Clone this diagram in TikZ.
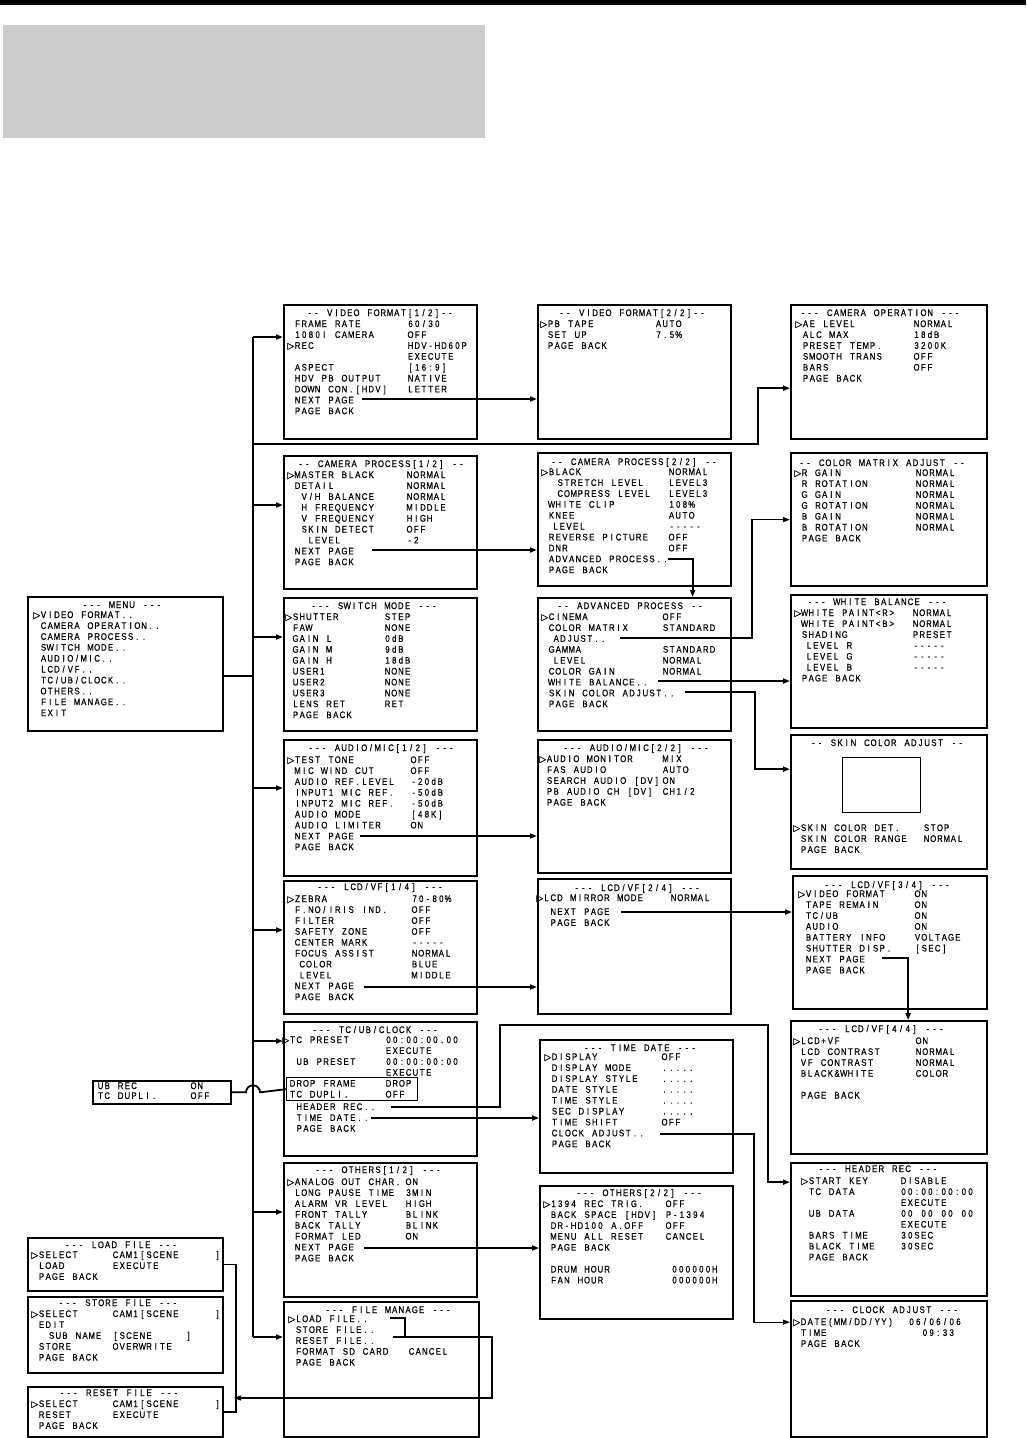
\documentclass[tikz,border=0pt]{standalone}
\usepackage{fontspec}
\usetikzlibrary{arrows.meta}
\newfontfamily\osdfont[FakeStretch=0.82, FakeBold=0.6]{Liberation Sans}
\newfontfamily\symf[FakeBold=0.6]{DejaVu Sans}
\newcommand\osdsz{\osdfont\fontsize{9.5}{10.9}\selectfont}
\newlength\osdcell \setlength\osdcell{6.7pt}
\newlength\labw
% one character per screen cell
\ExplSyntaxOn
\tl_new:N \l_osd_tl
\NewDocumentCommand \osd { m }
  {
    \tl_set:Nn \l_osd_tl { #1 }
    \tl_replace_all:Nnn \l_osd_tl { ~ } { \c_empty_tl }
    \tl_map_inline:Nn \l_osd_tl { \makebox [ \osdcell ] [ c ] { ##1 } }
  }
\ExplSyntaxOff
% menu row: label, value
\NewDocumentCommand\rw{O{0}mm}{\makebox[\labw][l]{\hspace*{#1\osdcell}\osd{#2}}\osd{#3}}
\newcommand\sel{\llap{\symf\fontsize{9}{9}\selectfont ▷}}
\begin{document}
\begin{tikzpicture}[x=1pt, y=-1pt,
  scr/.style={draw, line width=2.3pt, anchor=north west, inner sep=0pt},
  ttl/.style={anchor=base, inner sep=0pt, font=\osdsz},
  rows/.style={anchor=base west, inner sep=0pt, font=\osdsz,
    execute at begin node={\setlength\labw{#1}}},
  lnk/.style={line width=1.8pt},
  arr/.style={lnk, -{Triangle[length=7pt, width=5pt]}},
  thinarr/.style={line width=1.1pt, -{Triangle[length=7pt, width=5pt]}}]
  \useasboundingbox (0,0) rectangle (1026,1438);

  % page head
  \fill (0,0) rectangle (1026,5);
  \fill[black!20] (3,25) rectangle (485,138);

  % Menu
  \node[scr, minimum width=195pt, minimum height=134pt] (menu) at (27,596) {};
  \node[ttl] at (122,608) {\osd{--- MENU ---}};
  \node[rows=0pt] at (40,618) {\begin{tabular}[t]{@{}l@{}}
    \sel\osd{VIDEO FORMAT..}\\ \osd{CAMERA OPERATION..}\\ \osd{CAMERA PROCESS..}\\
    \osd{SWITCH MODE..}\\ \osd{AUDIO/MIC..}\\ \osd{LCD/VF..}\\ \osd{TC/UB/CLOCK..}\\
    \osd{OTHERS..}\\ \osd{FILE MANAGE..}\\ \osd{EXIT}
  \end{tabular}};

  % Video format 1/2
  \node[scr, minimum width=193pt, minimum height=134pt] (vf1) at (283,304) {};
  \node[ttl] at (380,316) {\osd{-- VIDEO FORMAT[1/2]--}};
  \node[rows=113pt] at (294,327) {\begin{tabular}[t]{@{}l@{}}
    \rw{FRAME RATE}{60/30}\\ \rw{1080I CAMERA}{OFF}\\ \sel\rw{REC}{HDV-HD60P}\\
    \rw{}{EXECUTE}\\ \rw{ASPECT}{[16:9]}\\ \rw{HDV PB OUTPUT}{NATIVE}\\
    \rw{DOWN CON.[HDV]}{LETTER}\\ \rw{NEXT PAGE}{}\\ \rw{PAGE BACK}{}
  \end{tabular}};

  % Video format 2/2
  \node[scr, minimum width=193pt, minimum height=134pt] (vf2) at (537,304) {};
  \node[ttl] at (632,316) {\osd{-- VIDEO FORMAT[2/2]--}};
  \node[rows=108pt] at (547,327) {\begin{tabular}[t]{@{}l@{}}
    \sel\rw{PB TAPE}{AUTO}\\ \rw{SET UP}{7.5\%}\\ \rw{PAGE BACK}{}
  \end{tabular}};

  % Camera operation
  \node[scr, minimum width=196pt, minimum height=134pt] (co) at (790,304) {};
  \node[ttl] at (880,316) {\osd{--- CAMERA OPERATION ---}};
  \node[rows=111pt] at (802,327) {\begin{tabular}[t]{@{}l@{}}
    \sel\rw{AE LEVEL}{NORMAL}\\ \rw{ALC MAX}{18dB}\\ \rw{PRESET TEMP.}{3200K}\\
    \rw{SMOOTH TRANS}{OFF}\\ \rw{BARS}{OFF}\\ \rw{PAGE BACK}{}
  \end{tabular}};

  % Camera process 1/2
  \node[scr, minimum width=193pt, minimum height=133pt] (cp1) at (283,455) {};
  \node[ttl] at (381,467) {\osd{-- CAMERA PROCESS[1/2] --}};
  \node[rows=112pt] at (294,478) {\begin{tabular}[t]{@{}l@{}}
    \sel\rw{MASTER BLACK}{NORMAL}\\ \rw{DETAIL}{NORMAL}\\ \rw[1]{V/H BALANCE}{NORMAL}\\
    \rw[1]{H FREQUENCY}{MIDDLE}\\ \rw[1]{V FREQUENCY}{HIGH}\\ \rw[1]{SKIN DETECT}{OFF}\\
    \rw[2]{LEVEL}{-2}\\ \rw{NEXT PAGE}{}\\ \rw{PAGE BACK}{}
  \end{tabular}};

  % Camera process 2/2
  \node[scr, minimum width=193pt, minimum height=133pt] (cp2) at (537,452) {};
  \node[ttl] at (634,465) {\osd{-- CAMERA PROCESS[2/2] --}};
  \node[rows=120pt] at (548,475) {\begin{tabular}[t]{@{}l@{}}
    \sel\rw{BLACK}{NORMAL}\\ \rw[1.3]{STRETCH LEVEL}{LEVEL3}\\ \rw[1.3]{COMPRESS LEVEL}{LEVEL3}\\
    \rw{WHITE CLIP}{108\%}\\ \rw{KNEE}{AUTO}\\ \rw[0.6]{LEVEL}{-----}\\
    \rw{REVERSE PICTURE}{OFF}\\ \rw{DNR}{OFF}\\ \rw{ADVANCED PROCESS..}{}\\ \rw{PAGE BACK}{}
  \end{tabular}};

  % Color matrix adjust
  \node[scr, minimum width=196pt, minimum height=133pt] (cm) at (790,452) {};
  \node[ttl] at (882,466) {\osd{-- COLOR MATRIX ADJUST --}};
  \node[rows=114pt] at (801,476) {\begin{tabular}[t]{@{}l@{}}
    \sel\rw{R GAIN}{NORMAL}\\ \rw{R ROTATION}{NORMAL}\\ \rw{G GAIN}{NORMAL}\\
    \rw{G ROTATION}{NORMAL}\\ \rw{B GAIN}{NORMAL}\\ \rw{B ROTATION}{NORMAL}\\ \rw{PAGE BACK}{}
  \end{tabular}};

  % Switch mode
  \node[scr, minimum width=193pt, minimum height=133pt] (sw) at (283,597) {};
  \node[ttl] at (374,609) {\osd{--- SWITCH MODE ---}};
  \node[rows=92pt] at (292,620) {\begin{tabular}[t]{@{}l@{}}
    \sel\rw{SHUTTER}{STEP}\\ \rw{FAW}{NONE}\\ \rw{GAIN L}{0dB}\\ \rw{GAIN M}{9dB}\\
    \rw{GAIN H}{18dB}\\ \rw{USER1}{NONE}\\ \rw{USER2}{NONE}\\ \rw{USER3}{NONE}\\
    \rw{LENS RET}{RET}\\ \rw{PAGE BACK}{}
  \end{tabular}};

  % Advanced process
  \node[scr, minimum width=193pt, minimum height=133pt] (ap) at (537,597) {};
  \node[ttl] at (630,609) {\osd{-- ADVANCED PROCESS --}};
  \node[rows=114pt] at (548,620) {\begin{tabular}[t]{@{}l@{}}
    \sel\rw{CINEMA}{OFF}\\ \rw{COLOR MATRIX}{STANDARD}\\ \rw[0.7]{ADJUST..}{}\\
    \rw{GAMMA}{STANDARD}\\ \rw[0.7]{LEVEL}{NORMAL}\\ \rw{COLOR GAIN}{NORMAL}\\
    \rw{WHITE BALANCE..}{}\\ \rw{SKIN COLOR ADJUST..}{}\\ \rw{PAGE BACK}{}
  \end{tabular}};

  % White balance
  \node[scr, minimum width=196pt, minimum height=133pt] (wb) at (790,594) {};
  \node[ttl] at (877,605) {\osd{--- WHITE BALANCE ---}};
  \node[rows=111pt] at (801,616) {\begin{tabular}[t]{@{}l@{}}
    \sel\rw{WHITE PAINT<R>}{NORMAL}\\ \rw{WHITE PAINT<B>}{NORMAL}\\ \rw{SHADING}{PRESET}\\
    \rw[0.7]{LEVEL R}{-----}\\ \rw[0.7]{LEVEL G}{-----}\\ \rw[0.7]{LEVEL B}{-----}\\ \rw{PAGE BACK}{}
  \end{tabular}};

  % Audio/mic 1/2
  \node[scr, minimum width=193pt, minimum height=136pt] (au1) at (283,739) {};
  \node[ttl] at (381,751) {\osd{--- AUDIO/MIC[1/2] ---}};
  \node[rows=116pt] at (294,763) {\begin{tabular}[t]{@{}l@{}}
    \sel\rw{TEST TONE}{OFF}\\ \rw{MIC WIND CUT}{OFF}\\ \rw{AUDIO REF.LEVEL}{-20dB}\\
    \rw{INPUT1 MIC REF.}{-50dB}\\ \rw{INPUT2 MIC REF.}{-50dB}\\ \rw{AUDIO MODE}{[48K]}\\
    \rw{AUDIO LIMITER}{ON}\\ \rw{NEXT PAGE}{}\\ \rw{PAGE BACK}{}
  \end{tabular}};

  % Audio/mic 2/2
  \node[scr, minimum width=193pt, minimum height=133pt] (au2) at (537,739) {};
  \node[ttl] at (636,751) {\osd{--- AUDIO/MIC[2/2] ---}};
  \node[rows=116pt] at (546,762) {\begin{tabular}[t]{@{}l@{}}
    \sel\rw{AUDIO MONITOR}{MIX}\\ \rw{FAS AUDIO}{AUTO}\\ \rw{SEARCH AUDIO [DV]}{ON}\\
    \rw{PB AUDIO CH [DV]}{CH1/2}\\ \rw{PAGE BACK}{}
  \end{tabular}};

  % Skin color adjust
  \node[scr, minimum width=196pt, minimum height=134pt] (sk) at (790,734) {};
  \node[ttl] at (887,746) {\osd{-- SKIN COLOR ADJUST --}};
  \node[draw, line width=1pt, anchor=north west, inner sep=0pt,
    minimum width=78pt, minimum height=55pt] (skwin) at (842,757) {};
  \node[rows=123pt] at (800,831) {\begin{tabular}[t]{@{}l@{}}
    \sel\rw{SKIN COLOR DET.}{STOP}\\ \rw{SKIN COLOR RANGE}{NORMAL}\\ \rw{PAGE BACK}{}
  \end{tabular}};

  % LCD/VF 1/4
  \node[scr, minimum width=193pt, minimum height=133pt] (lcd1) at (283,880) {};
  \node[ttl] at (380,890) {\osd{--- LCD/VF[1/4] ---}};
  \node[rows=117pt] at (294,902) {\begin{tabular}[t]{@{}l@{}}
    \sel\rw{ZEBRA}{70-80\%}\\ \rw{F.NO/IRIS IND.}{OFF}\\ \rw{FILTER}{OFF}\\
    \rw{SAFETY ZONE}{OFF}\\ \rw{CENTER MARK}{-----}\\ \rw{FOCUS ASSIST}{NORMAL}\\
    \rw[0.7]{COLOR}{BLUE}\\ \rw[0.7]{LEVEL}{MIDDLE}\\ \rw{NEXT PAGE}{}\\ \rw{PAGE BACK}{}
  \end{tabular}};

  % LCD/VF 2/4
  \node[scr, minimum width=193pt, minimum height=135pt] (lcd2) at (537,878) {};
  \node[ttl] at (637,891) {\osd{--- LCD/VF[2/4] ---}};
  \node[rows=127pt] at (543,901) {\begin{tabular}[t]{@{}l@{}}
    \sel\rw{LCD MIRROR MODE}{NORMAL}\\[3pt] \rw[1]{NEXT PAGE}{}\\ \rw[1]{PAGE BACK}{}
  \end{tabular}};

  % LCD/VF 3/4
  \node[scr, minimum width=194pt, minimum height=133pt] (lcd3) at (792,875) {};
  \node[ttl] at (887,888) {\osd{--- LCD/VF[3/4] ---}};
  \node[rows=109pt] at (805,897) {\begin{tabular}[t]{@{}l@{}}
    \sel\rw{VIDEO FORMAT}{ON}\\ \rw{TAPE REMAIN}{ON}\\ \rw{TC/UB}{ON}\\ \rw{AUDIO}{ON}\\
    \rw{BATTERY INFO}{VOLTAGE}\\ \rw{SHUTTER DISP.}{[SEC]}\\ \rw{NEXT PAGE}{}\\ \rw{PAGE BACK}{}
  \end{tabular}};

  % LCD/VF 4/4
  \node[scr, minimum width=196pt, minimum height=133pt] (lcd4) at (790,1020) {};
  \node[ttl] at (881,1032) {\osd{--- LCD/VF[4/4] ---}};
  \node[rows=115pt] at (800,1044) {\begin{tabular}[t]{@{}l@{}}
    \sel\rw{LCD+VF}{ON}\\ \rw{LCD CONTRAST}{NORMAL}\\ \rw{VF CONTRAST}{NORMAL}\\
    \rw{BLACK\&WHITE}{COLOR}\\ \\ \rw{PAGE BACK}{}
  \end{tabular}};

  % TC/UB/clock
  \node[scr, minimum width=193pt, minimum height=134pt] (tc) at (283,1021) {};
  \node[ttl] at (375,1033) {\osd{--- TC/UB/CLOCK ---}};
  \node[draw, line width=1.4pt, anchor=north west, inner sep=0pt,
    minimum width=131pt, minimum height=23pt] (tchl) at (286,1077) {};
  \node[rows=96pt] at (289,1043) {\begin{tabular}[t]{@{}l@{}}
    \sel\rw{TC PRESET}{00:00:00.00}\\ \rw{}{EXECUTE}\\ \rw[1]{UB PRESET}{00:00:00:00}\\
    \rw{}{EXECUTE}\\ \rw{DROP FRAME}{DROP}\\ \rw{TC DUPLI.}{OFF}\\[1.5pt]
    \rw[1]{HEADER REC..}{}\\ \rw[1]{TIME DATE..}{}\\ \rw[1]{PAGE BACK}{}
  \end{tabular}};

  % UB rec / TC dupli.
  \node[scr, line width=1.6pt, minimum width=138pt, minimum height=23pt] (ubrec) at (92,1080) {};
  \node[rows=93pt] at (97,1089) {\begin{tabular}[t]{@{}l@{}}
    \rw{UB REC}{ON}\\[-1pt] \rw{TC DUPLI.}{OFF}
  \end{tabular}};

  % Time date
  \node[scr, minimum width=193pt, minimum height=133pt] (td) at (539,1039) {};
  \node[ttl] at (640,1051) {\osd{--- TIME DATE ---}};
  \node[rows=110pt] at (551,1060) {\begin{tabular}[t]{@{}l@{}}
    \sel\rw{DISPLAY}{OFF}\\ \rw{DISPLAY MODE}{.....}\\ \rw{DISPLAY STYLE}{.....}\\
    \rw{DATE STYLE}{.....}\\ \rw{TIME STYLE}{.....}\\ \rw{SEC DISPLAY}{.....}\\
    \rw{TIME SHIFT}{OFF}\\ \rw{CLOCK ADJUST..}{}\\ \rw{PAGE BACK}{}
  \end{tabular}};

  % Others 1/2
  \node[scr, minimum width=193pt, minimum height=134pt] (ot1) at (283,1162) {};
  \node[ttl] at (378,1173) {\osd{--- OTHERS[1/2] ---}};
  \node[rows=111pt] at (294,1185) {\begin{tabular}[t]{@{}l@{}}
    \sel\rw{ANALOG OUT CHAR.}{ON}\\ \rw{LONG PAUSE TIME}{3MIN}\\ \rw{ALARM VR LEVEL}{HIGH}\\
    \rw{FRONT TALLY}{BLINK}\\ \rw{BACK TALLY}{BLINK}\\ \rw{FORMAT LED}{ON}\\
    \rw{NEXT PAGE}{}\\ \rw{PAGE BACK}{}
  \end{tabular}};

  % Others 2/2
  \node[scr, minimum width=193pt, minimum height=133pt] (ot2) at (539,1185) {};
  \node[ttl] at (639,1196) {\osd{--- OTHERS[2/2] ---}};
  \node[rows=115pt] at (550,1207) {\begin{tabular}[t]{@{}l@{}}
    \sel\rw{1394 REC TRIG.}{OFF}\\ \rw{BACK SPACE [HDV]}{P-1394}\\ \rw{DR-HD100 A.OFF}{OFF}\\
    \rw{MENU ALL RESET}{CANCEL}\\ \rw{PAGE BACK}{}\\[11pt]
    \rw{DRUM HOUR}{}\hspace*{6pt}\osd{000000H}\\ \rw{FAN HOUR}{}\hspace*{6pt}\osd{000000H}
  \end{tabular}};

  % Header rec
  \node[scr, minimum width=196pt, minimum height=133pt] (hr) at (790,1162) {};
  \node[ttl] at (878,1172) {\osd{--- HEADER REC ---}};
  \node[rows=92pt] at (808,1184) {\begin{tabular}[t]{@{}l@{}}
    \sel\rw{START KEY}{DISABLE}\\ \rw{TC DATA}{00:00:00:00}\\ \rw{}{EXECUTE}\\
    \rw{UB DATA}{00 00 00 00}\\ \rw{}{EXECUTE}\\ \rw{BARS TIME}{30SEC}\\
    \rw{BLACK TIME}{30SEC}\\ \rw{PAGE BACK}{}
  \end{tabular}};

  % File manage
  \node[scr, minimum width=195pt, minimum height=135pt] (fm) at (283,1301) {};
  \node[ttl] at (388,1313) {\osd{--- FILE MANAGE ---}};
  \node[rows=113pt] at (295,1322) {\begin{tabular}[t]{@{}l@{}}
    \sel\rw{LOAD FILE..}{}\\ \rw{STORE FILE..}{}\\ \rw{RESET FILE..}{}\\
    \rw{FORMAT SD CARD}{CANCEL}\\ \rw{PAGE BACK}{}
  \end{tabular}};

  % Clock adjust
  \node[scr, minimum width=196pt, minimum height=136pt] (ca) at (790,1300) {};
  \node[ttl] at (892,1313) {\osd{--- CLOCK ADJUST ---}};
  \node[rows=108pt] at (800,1325) {\begin{tabular}[t]{@{}l@{}}
    \sel\rw{DATE(MM/DD/YY)}{06/06/06}\\ \rw{TIME}{}\hspace*{13.4pt}\osd{09:33}\\ \rw{PAGE BACK}{}
  \end{tabular}};

  % Load / store / reset file
  \node[scr, line width=2pt, minimum width=195pt, minimum height=53pt] (load) at (27,1237) {};
  \node[ttl] at (121,1248) {\osd{--- LOAD FILE ---}};
  \node[rows=74pt] at (38,1258) {\begin{tabular}[t]{@{}l@{}}
    \sel\rw{SELECT}{}\makebox[102pt][l]{\osd{CAM1[SCENE}}\osd{]}\\ \rw{LOAD}{EXECUTE}\\ \rw{PAGE BACK}{}
  \end{tabular}};
  \node[scr, line width=2pt, minimum width=195pt, minimum height=76pt] (store) at (27,1296) {};
  \node[ttl] at (118,1306) {\osd{--- STORE FILE ---}};
  \node[rows=74pt] at (38,1317) {\begin{tabular}[t]{@{}l@{}}
    \sel\rw{SELECT}{}\makebox[102pt][l]{\osd{CAM1[SCENE}}\osd{]}\\ \rw{EDIT}{}\\
    \rw[1.5]{SUB NAME}{}\makebox[73pt][l]{\osd{[SCENE}}\osd{]}\\ \rw{STORE}{OVERWRITE}\\ \rw{PAGE BACK}{}
  \end{tabular}};
  \node[scr, line width=2pt, minimum width=195pt, minimum height=50pt] (reset) at (27,1386) {};
  \node[ttl] at (119,1396) {\osd{--- RESET FILE ---}};
  \node[rows=74pt] at (38,1407) {\begin{tabular}[t]{@{}l@{}}
    \sel\rw{SELECT}{}\makebox[102pt][l]{\osd{CAM1[SCENE}}\osd{]}\\ \rw{RESET}{EXECUTE}\\ \rw{PAGE BACK}{}
  \end{tabular}};

  % trunk from the menu
  \coordinate (ttop) at (253,337);
  \coordinate (tbot) at (253,1337);
  \draw[lnk] (ttop) -- (tbot);
  \draw[lnk] ([yshift=-12pt]menu.east) -- ([yshift=-12pt]menu.east -| ttop);
  \foreach \b/\d in {vf1/33, cp1/50, sw/40, au1/49, lcd1/50, tc/20, ot1/50, fm/36}
    \draw[arr] ([yshift=-\d pt]\b.north west -| ttop) -- ([yshift=-\d pt]\b.north west);
  \coordinate (cojoin) at (253,444);
  \draw[arr] (cojoin) -- ++(505,0) |- ([yshift=-16pt]co.west);

  % next page and sub menus
  \coordinate (vf1np) at (362,399);
  \draw[arr] (vf1np) -- (vf1np -| vf2.west);
  \coordinate (cp1np) at (372,550);
  \draw[arr] (cp1np) -- (cp1np -| cp2.west);
  \coordinate (cp2adv) at (668,559);
  \draw[arr] (cp2adv) -| ([xshift=58pt]ap.north);
  \coordinate (apadj) at (620,638);
  \draw[thinarr] (apadj) -- ++(132,0) |- (cm.west);
  \coordinate (apwb) at (658,681);
  \draw[arr] (apwb) -- (apwb -| wb.west);
  \coordinate (apskin) at (685,692);
  \draw[arr] (apskin) -- ++(70,0) |- ([yshift=33pt]sk.west);
  \coordinate (au1np) at (360,836);
  \draw[arr] (au1np) -- (au1np -| au2.west);
  \coordinate (lcd1np) at (364,987);
  \draw[arr] (lcd1np) -- (lcd1np -| lcd2.west);
  \coordinate (lcd2np) at (621,912);
  \draw[arr] (lcd2np) -- (lcd2np -| lcd3.west);
  \coordinate (lcd3np) at (882,958);
  \draw[arr] (lcd3np) -| ([xshift=19pt]lcd4.north);
  \coordinate (tchead) at (391,1107);
  \draw[arr] (tchead) -- ++(109,0) -- ++(0,-82) -- ++(268,0) |- ([yshift=47.5pt]hr.west);
  \coordinate (tctime) at (371,1118);
  \draw[arr] (tctime) -- (tctime -| td.west);
  \coordinate (tdclock) at (660,1134);
  \draw[thinarr] (tdclock) -- ++(94,0) |- ([yshift=47pt]ca.west);
  \coordinate (ot1np) at (364,1248);
  \draw[arr] (ot1np) -- (ot1np -| ot2.west);

  % UB rec jumps the trunk
  \draw[lnk] (ubrec.east) -- ([xshift=-7pt]ubrec.east -| ttop)
    arc[start angle=180, end angle=0, radius=7pt] -- (tchl.west);

  % file brackets
  \coordinate (fmload) at (390,1318);
  \coordinate (fmreset) at (393,1337);
  \draw[lnk] (fmload) -- ++(15,0) |- (fmreset);
  \draw[lnk] (load.east) -- ++(12,0) |- (reset.east);
  \coordinate (filebr) at (234,1398);
  \draw[thinarr] ([xshift=12pt]fmreset) -- ++(87,0) |- (filebr);
\end{tikzpicture}
\end{document}
